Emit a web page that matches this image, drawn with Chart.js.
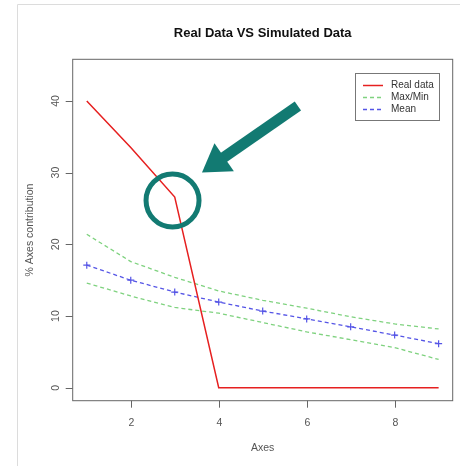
<!DOCTYPE html>
<html>
<head>
<meta charset="utf-8">
<script src="https://cdn.jsdelivr.net/npm/chart.js@4/dist/chart.umd.min.js"></script>
<style>
html, body { margin: 0; padding: 0; background: #fff; }
#wrap { width: 465px; height: 466px; }
</style>
</head>
<body>
<div id="wrap"><canvas id="simChart" width="465" height="466"></canvas></div>
<script>
// axis number vs. % contribution, observed and simulated
var axes = [1, 2, 3, 4, 5, 6, 7, 8, 9];
var realData = [40, 33.5, 26.6, 0, 0, 0, 0, 0, 0];
var simMax = [21.4, 17.6, 15.4, 13.5, 12.2, 11.1, 9.9, 8.9, 8.2];
var simMin = [14.6, 12.8, 11.2, 10.4, 9.1, 7.8, 6.7, 5.6, 3.95];
var simMean = [17.1, 15.0, 13.35, 11.95, 10.7, 9.6, 8.5, 7.35, 6.15];
var xTicks = [2, 4, 6, 8];
var yTicks = [0, 10, 20, 30, 40];

var RED = '#e62020', GREEN = '#7fd27f', BLUE = '#5555e6', TEAL = '#127a72';
var FONT = '"Liberation Sans", Arial, sans-serif';

// callout ring and arrow, placed in data units
var ring = { x: 2.95, y: 26.1 };
var arrowFrom = { x: 5.8, y: 39.3 };
var arrowTo = { x: 3.62, y: 30.0 };

function pts(ys) {
  return axes.map(function (x, i) { return { x: x, y: ys[i] }; });
}

var rDecor = {
  id: 'rDecor',
  afterDatasetsDraw: function (chart) {
    var ctx = chart.ctx, a = chart.chartArea;
    var xs = chart.scales.x, ys = chart.scales.y;
    ctx.save();

    // outer frame
    ctx.strokeStyle = '#dcdcdc';
    ctx.lineWidth = 1;
    ctx.beginPath();
    ctx.moveTo(17.5, 466); ctx.lineTo(17.5, 4.5); ctx.lineTo(460, 4.5);
    ctx.stroke();

    // plot box
    ctx.strokeStyle = '#666';
    ctx.strokeRect(a.left, a.top, a.right - a.left, a.bottom - a.top);

    // ticks + labels
    ctx.fillStyle = '#555';
    ctx.font = '10.5px ' + FONT;
    ctx.textAlign = 'center';
    ctx.textBaseline = 'middle';
    ctx.beginPath();
    xTicks.forEach(function (v) {
      var px = Math.round(xs.getPixelForValue(v)) + 0.5;
      ctx.moveTo(px, a.bottom); ctx.lineTo(px, a.bottom + 7);
      ctx.fillText(String(v), px, a.bottom + 22);
    });
    yTicks.forEach(function (v) {
      var py = Math.round(ys.getPixelForValue(v)) + 0.5;
      ctx.moveTo(a.left, py); ctx.lineTo(a.left - 7, py);
    });
    ctx.stroke();
    yTicks.forEach(function (v) {
      var py = ys.getPixelForValue(v);
      ctx.save();
      ctx.translate(56, py);
      ctx.rotate(-Math.PI / 2);
      ctx.fillText(String(v), 0, 0);
      ctx.restore();
    });

    // axis titles
    ctx.fillText('Axes', (a.left + a.right) / 2, 448);
    ctx.save();
    ctx.translate(30, (a.top + a.bottom) / 2);
    ctx.rotate(-Math.PI / 2);
    ctx.fillText('% Axes contribution', 0, 0);
    ctx.restore();

    // main title
    ctx.fillStyle = '#111';
    ctx.font = 'bold 13px ' + FONT;
    ctx.fillText('Real Data VS Simulated Data', (a.left + a.right) / 2, 33.5);

    // legend
    ctx.strokeStyle = '#777';
    ctx.lineWidth = 1;
    ctx.strokeRect(355.5, 73.5, 84, 47);
    var rows = [
      { text: 'Real data', color: RED, dash: [] },
      { text: 'Max/Min', color: GREEN, dash: [4, 3] },
      { text: 'Mean', color: BLUE, dash: [4, 3] }
    ];
    ctx.font = '10px ' + FONT;
    ctx.textAlign = 'left';
    rows.forEach(function (r, i) {
      var ly = 85.5 + i * 12;
      ctx.strokeStyle = r.color;
      ctx.lineWidth = 1.5;
      ctx.setLineDash(r.dash);
      ctx.beginPath(); ctx.moveTo(363, ly); ctx.lineTo(383, ly); ctx.stroke();
      ctx.setLineDash([]);
      ctx.fillStyle = '#333';
      ctx.fillText(r.text, 391, ly);
    });

    // callout ring
    ctx.strokeStyle = TEAL;
    ctx.lineWidth = 5;
    ctx.beginPath();
    ctx.arc(xs.getPixelForValue(ring.x), ys.getPixelForValue(ring.y), 26.5, 0, Math.PI * 2);
    ctx.stroke();

    // callout arrow
    var x0 = xs.getPixelForValue(arrowFrom.x), y0 = ys.getPixelForValue(arrowFrom.y);
    var x1 = xs.getPixelForValue(arrowTo.x), y1 = ys.getPixelForValue(arrowTo.y);
    var ang = Math.atan2(y1 - y0, x1 - x0);
    var headLen = 27, headW = 17;
    var bx = x1 - headLen * Math.cos(ang), by = y1 - headLen * Math.sin(ang);
    ctx.lineWidth = 11;
    ctx.lineCap = 'butt';
    ctx.beginPath(); ctx.moveTo(x0, y0); ctx.lineTo(bx + 2 * Math.cos(ang), by + 2 * Math.sin(ang)); ctx.stroke();
    ctx.fillStyle = TEAL;
    ctx.beginPath();
    ctx.moveTo(x1, y1);
    ctx.lineTo(bx + headW * Math.sin(ang), by - headW * Math.cos(ang));
    ctx.lineTo(bx - headW * Math.sin(ang), by + headW * Math.cos(ang));
    ctx.closePath();
    ctx.fill();

    ctx.restore();
  }
};

new Chart(document.getElementById('simChart'), {
  type: 'line',
  data: {
    datasets: [
      { label: 'Real data', data: pts(realData), borderColor: RED, borderWidth: 1.5, pointRadius: 0, tension: 0 },
      { label: 'Max', data: pts(simMax), borderColor: GREEN, borderWidth: 1.3, borderDash: [4, 3], pointRadius: 0 },
      { label: 'Min', data: pts(simMin), borderColor: GREEN, borderWidth: 1.3, borderDash: [4, 3], pointRadius: 0 },
      { label: 'Mean', data: pts(simMean), borderColor: BLUE, borderWidth: 1.3, borderDash: [4, 3],
        pointStyle: 'cross', pointRadius: 3.5, pointBorderColor: BLUE, pointBorderWidth: 1.2 }
    ]
  },
  options: {
    responsive: false,
    animation: false,
    devicePixelRatio: 1,
    layout: { padding: { left: 72.7, top: 59.3, right: 12.3, bottom: 65.3 } },
    plugins: { legend: { display: false }, title: { display: false }, tooltip: { enabled: false } },
    scales: {
      x: { type: 'linear', display: false, min: 0.68, max: 9.32 },
      y: { type: 'linear', display: false, min: -1.8, max: 45.8 }
    }
  },
  plugins: [rDecor]
});
</script>
</body>
</html>
